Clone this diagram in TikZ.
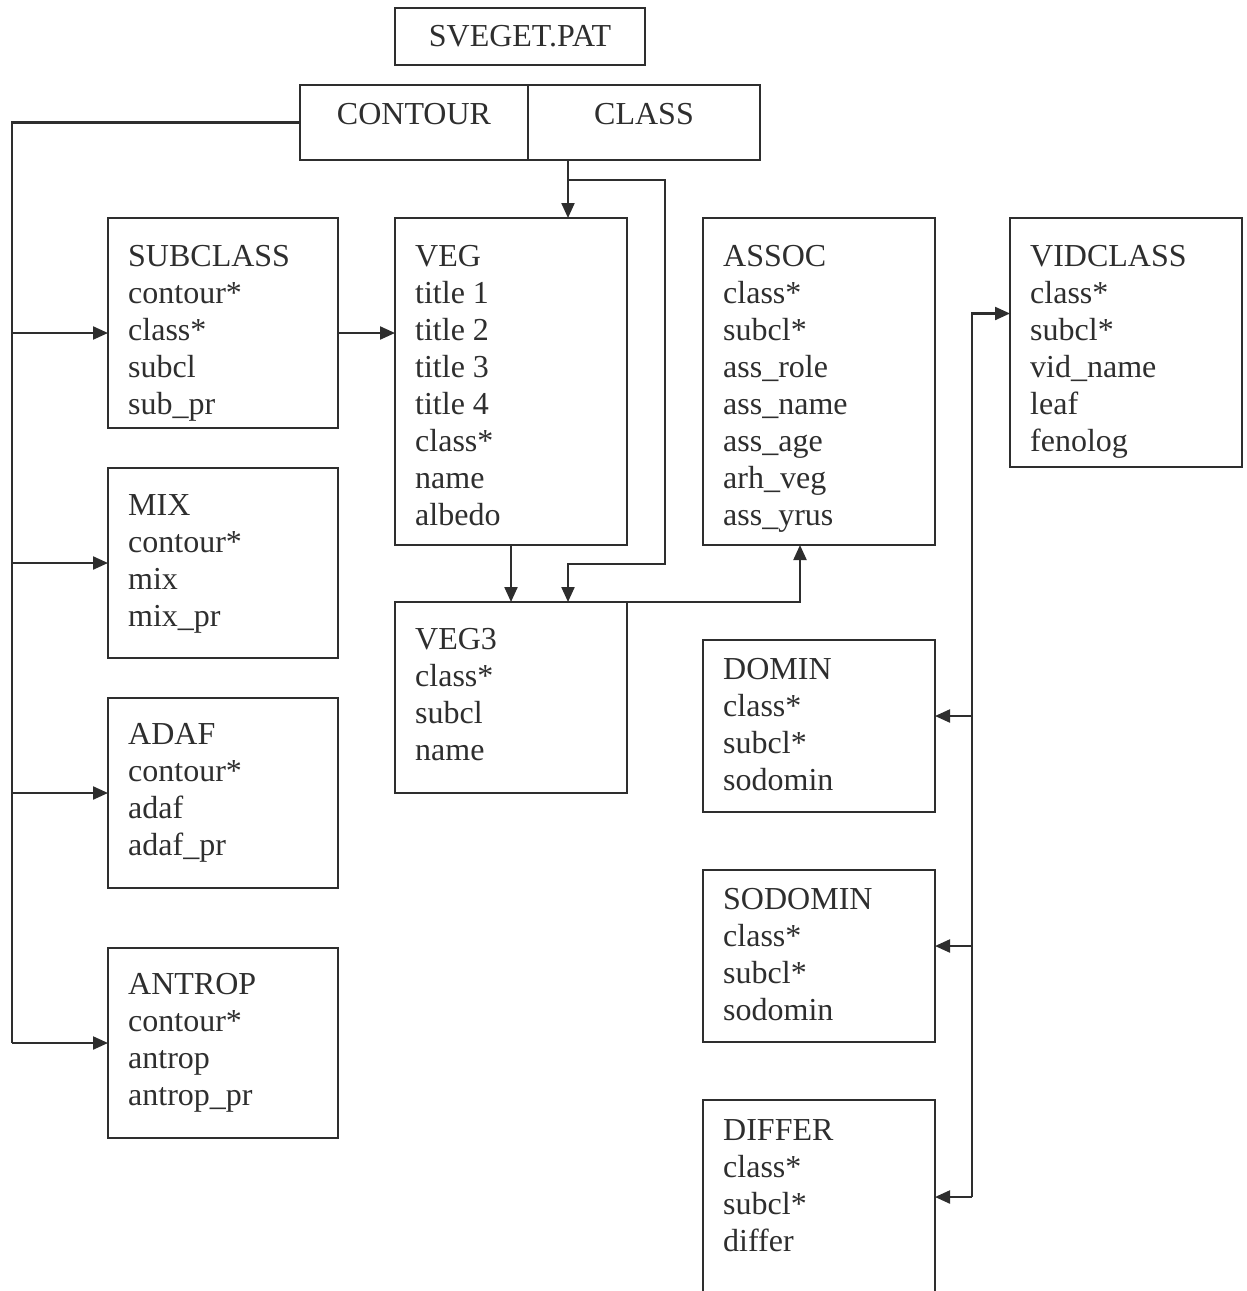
\documentclass[tikz,border=0pt]{standalone}
\usepackage{fontspec}
\setmainfont{Liberation Serif}
\usetikzlibrary{arrows.meta}
\definecolor{ink}{HTML}{2E2E2E}
\tikzset{
  tbl/.style={draw=ink, line width=2.6pt, anchor=north west, inner sep=0pt, outer sep=0pt},
  tbltext/.style={anchor=north west, align=left, inner sep=0pt, text=ink, font=\fontsize{32}{37}\selectfont},
  patline/.style={draw=ink, line width=2.2pt},
  patarrow/.style={patline, -{Triangle[length=15pt, width=13pt]}}
}
% name, x, y, width, height, text gap, lines
\newcommand\patbox[7]{
  \node[tbl, minimum width=#4pt, minimum height=#5pt] (#1) at (#2, #3) {};
  \node[tbltext] (#1-txt) at ([xshift=20pt, yshift=-#6pt]#1.north west) {#7};
}
\begin{document}
\begin{tikzpicture}[x=1pt, y=-1pt]
  \useasboundingbox (0,0) rectangle (1247,1291);
  % header
  \node[tbl, minimum width=250pt, minimum height=57pt, text=ink, font=\fontsize{32}{37}\selectfont] (pat) at (395,8) {SVEGET.PAT};
  \node[tbl, minimum width=228pt, minimum height=75pt] (contour) at (300,85) {};
  \node[tbl, minimum width=232pt, minimum height=75pt] (class) at (528,85) {};
  \node[tbltext, anchor=center] (contour-txt) at ([yshift=8.5pt]contour.center) {CONTOUR};
  \node[tbltext, anchor=center] (class-txt) at ([yshift=8.5pt]class.center) {CLASS};
  % tables
  \patbox{subclass}{108}{218}{230}{210}{27}{SUBCLASS\\contour*\\class*\\subcl\\sub\_pr}
  \patbox{mix}{108}{468}{230}{190}{26}{MIX\\contour*\\mix\\mix\_pr}
  \patbox{adaf}{108}{698}{230}{190}{25}{ADAF\\contour*\\adaf\\adaf\_pr}
  \patbox{antrop}{108}{948}{230}{190}{25}{ANTROP\\contour*\\antrop\\antrop\_pr}
  \patbox{veg}{395}{218}{232}{327}{27}{VEG\\title 1\\title 2\\title 3\\title 4\\class*\\name\\albedo}
  \patbox{veg3}{395}{602}{232}{191}{26}{VEG3\\class*\\subcl\\name}
  \patbox{assoc}{703}{218}{232}{327}{27}{ASSOC\\class*\\subcl*\\ass\_role\\ass\_name\\ass\_age\\arh\_veg\\ass\_yrus}
  \patbox{vidclass}{1010}{218}{232}{249}{27}{VIDCLASS\\class*\\subcl*\\vid\_name\\leaf\\fenolog}
  \patbox{domin}{703}{640}{232}{172}{18}{DOMIN\\class*\\subcl*\\sodomin}
  \patbox{sodomin}{703}{870}{232}{172}{18}{SODOMIN\\class*\\subcl*\\sodomin}
  \patbox{differ}{703}{1100}{232}{195}{19}{DIFFER\\class*\\subcl*\\differ}
  % left bus from CONTOUR
  \coordinate (busbot) at (12,1043);
  \coordinate (subin) at ([yshift=-10pt]subclass.west);
  \draw[patline] (contour.west) -| (busbot);
  \draw[patarrow] (busbot |- subin) -- (subin);
  \draw[patarrow] (busbot |- mix.west) -- (mix.west);
  \draw[patarrow] (busbot |- adaf.west) -- (adaf.west);
  \draw[patarrow] (busbot) -- (antrop.west);
  \draw[patarrow] (subin -| subclass.east) -- (subin -| veg.west);
  % CLASS links
  \coordinate (clsout) at ([xshift=-76pt]class.south);
  \coordinate (loopa) at ([yshift=-20pt]clsout);
  \coordinate (loopb) at (665,564);
  \draw[patarrow] (clsout) -- (clsout |- veg.north);
  \draw[patarrow] (loopa) -| (loopb) -| (loopa |- veg3.north);
  \draw[patarrow] (veg.south) -- (veg3.north);
  \coordinate (assin) at ([xshift=-19pt]assoc.south);
  \draw[patarrow] (veg3.north east) -| (assin);
  % right bus
  \coordinate (ribbot) at (972,1197);
  \coordinate (vidin) at ([yshift=29pt]vidclass.west);
  \coordinate (domin-in) at ([yshift=10pt]domin.east);
  \coordinate (sodomin-in) at ([yshift=10pt]sodomin.east);
  \draw[patarrow] (ribbot) |- (vidin);
  \draw[patarrow] (ribbot |- domin-in) -- (domin-in);
  \draw[patarrow] (ribbot |- sodomin-in) -- (sodomin-in);
  \draw[patarrow] (ribbot) -- (ribbot -| differ.east);
\end{tikzpicture}
\end{document}
